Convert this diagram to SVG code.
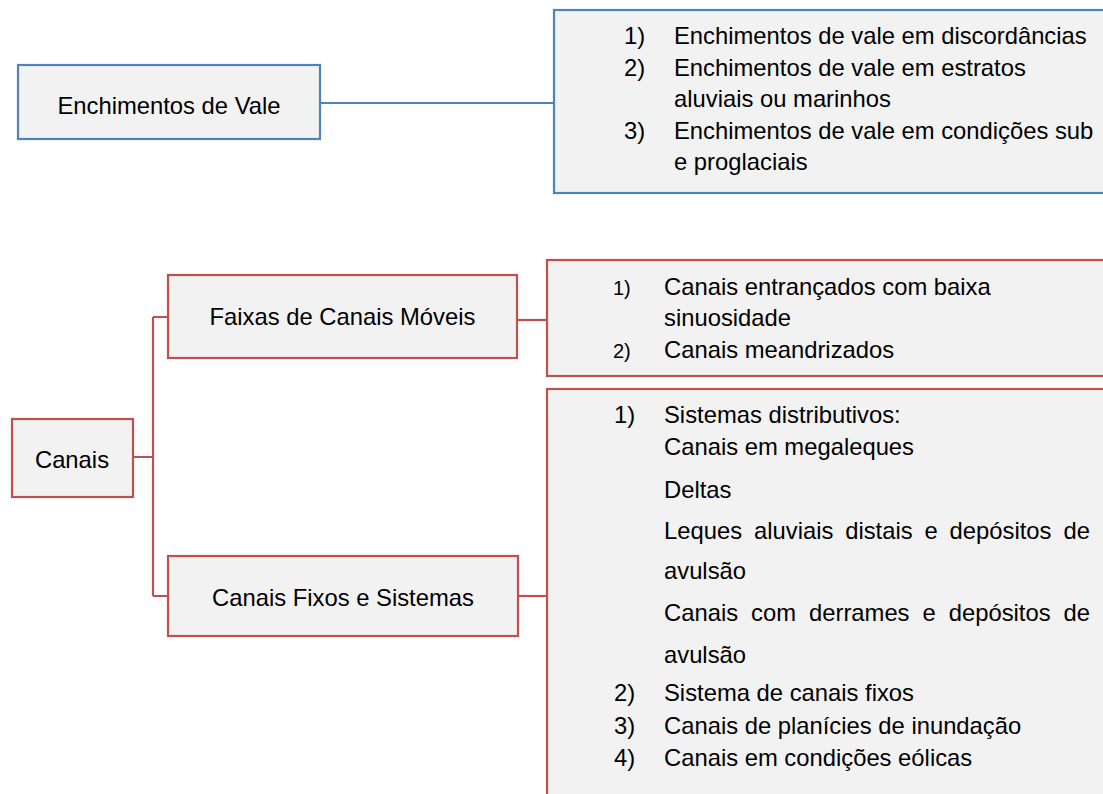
<svg xmlns="http://www.w3.org/2000/svg" width="1103" height="794" viewBox="0 0 1103 794">
<style>
.bg{fill:#ffffff}
.nb{fill:#F2F2F2;stroke:#4F81BD;stroke-width:2.2}
.nr{fill:#F2F2F2;stroke:#C0504D;stroke-width:2.2}
.cb{fill:none;stroke:#4F81BD;stroke-width:2.2}
.cr{fill:none;stroke:#C0504D;stroke-width:2.2}
text{font-family:"Liberation Sans",Arial,sans-serif;font-size:23.8px;fill:#000}
.c{text-anchor:middle}
.sm{font-size:20px}
</style>
<rect class="bg" x="0" y="0" width="1103" height="794"/>
<g id="connectors">
<path class="cb" d="M320 103H554"/>
<path class="cr" d="M133 457H153M153 317V596M153 317H168M153 596H168"/>
<path class="cr" d="M517 320H547"/>
<path class="cr" d="M518 596H547"/>
</g>
<g id="n-enchimentos">
<rect class="nb" x="18" y="65" width="302" height="74"/>
<text class="c" x="169" y="114">Enchimentos de Vale</text>
</g>
<g id="n-enchimentos-list">
<rect class="nb" x="554" y="10" width="570" height="183"/>
<text x="624" y="44">1)</text><text x="674" y="44">Enchimentos de vale em discordâncias</text>
<text x="624" y="76">2)</text><text x="674" y="76">Enchimentos de vale em estratos</text>
<text x="674" y="107">aluviais ou marinhos</text>
<text x="624" y="139">3)</text><text x="674" y="139">Enchimentos de vale em condições sub</text>
<text x="674" y="170">e proglaciais</text>
</g>
<g id="n-canais">
<rect class="nr" x="12" y="419" width="121" height="78"/>
<text class="c" x="72" y="468">Canais</text>
</g>
<g id="n-faixas">
<rect class="nr" x="168" y="275" width="349" height="83"/>
<text class="c" x="342.5" y="325">Faixas de Canais Móveis</text>
</g>
<g id="n-fixos">
<rect class="nr" x="168" y="556" width="350" height="80"/>
<text class="c" x="343" y="606">Canais Fixos e Sistemas</text>
</g>
<g id="n-faixas-list">
<rect class="nr" x="547" y="260" width="570" height="116"/>
<text class="sm" x="613" y="295">1)</text><text x="664" y="295">Canais entrançados com baixa</text>
<text x="664" y="326">sinuosidade</text>
<text class="sm" x="613" y="358">2)</text><text x="664" y="358">Canais meandrizados</text>
</g>
<g id="n-fixos-list">
<rect class="nr" x="547" y="389" width="570" height="420"/>
<text x="614" y="423">1)</text><text x="664" y="423">Sistemas distributivos:</text>
<text x="664" y="455">Canais em megaleques</text>
<text x="664" y="498">Deltas</text>
<text y="539"><tspan x="664">Leques</tspan><tspan x="754">aluviais</tspan><tspan x="845.2">distais</tspan><tspan x="924.5">e</tspan><tspan x="949.6">depósitos</tspan><tspan x="1063.4">de</tspan></text>
<text x="664" y="579">avulsão</text>
<text y="621"><tspan x="664">Canais</tspan><tspan x="751.1">com</tspan><tspan x="809">derrames</tspan><tspan x="922.5">e</tspan><tspan x="948.7">depósitos</tspan><tspan x="1063.5">de</tspan></text>
<text x="664" y="663">avulsão</text>
<text x="614" y="701">2)</text><text x="664" y="701">Sistema de canais fixos</text>
<text x="614" y="734">3)</text><text x="664" y="734">Canais de planícies de inundação</text>
<text x="614" y="766">4)</text><text x="664" y="766">Canais em condições eólicas</text>
</g>
</svg>
